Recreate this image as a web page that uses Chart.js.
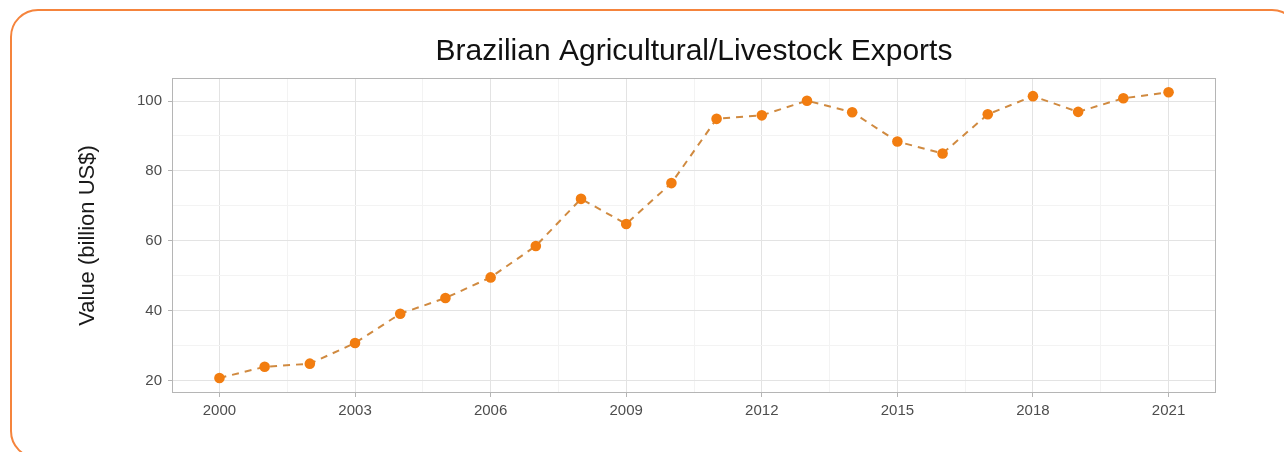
<!DOCTYPE html>
<html>
<head>
<meta charset="utf-8">
<title>Brazilian Agricultural/Livestock Exports</title>
<script src="https://cdn.jsdelivr.net/npm/chart.js@4/dist/chart.umd.min.js"></script>
<style>
  html, body { margin: 0; padding: 0; background: #fff; overflow: hidden; }
  #frame {
    position: absolute; left: 10px; top: 9px; width: 1290px; height: 450px;
    border: 2.5px solid #f5843c; border-radius: 28px; box-sizing: border-box;
  }
  #wrap { position: absolute; left: 0; top: 0; width: 1284px; height: 452px; }
</style>
</head>
<body>
<div id="frame"></div>
<div id="wrap"><canvas id="grafico" width="1284" height="452"></canvas></div>
<script>
// exportações do agronegócio, bilhões de US$
const anos = [2000, 2001, 2002, 2003, 2004, 2005, 2006, 2007, 2008, 2009, 2010,
  2011, 2012, 2013, 2014, 2015, 2016, 2017, 2018, 2019, 2020, 2021];
const valores = [20.7, 23.9, 24.8, 30.7, 39.1, 43.6, 49.5, 58.5, 72.0, 64.8, 76.5,
  94.9, 95.9, 100.1, 96.8, 88.4, 85.0, 96.2, 101.4, 96.9, 100.8, 102.5];

const anosTicks = [2000, 2003, 2006, 2009, 2012, 2015, 2018, 2021];
const anosMenores = [2001.5, 2004.5, 2007.5, 2010.5, 2013.5, 2016.5, 2019.5];
const valoresTicks = [20, 40, 60, 80, 100];
const valoresMenores = [30, 50, 70, 90];

const corGrade = "#e3e3e3";
const corGradeMenor = "#f3f3f3";
const corMoldura = "#b5b5b5";
const fonte = "Liberation Sans, Arial, sans-serif";

// moldura cinza em volta da área do gráfico
const moldura = {
  id: "moldura",
  afterDraw(chart) {
    const { ctx, chartArea: a } = chart;
    ctx.save();
    ctx.strokeStyle = corMoldura;
    ctx.lineWidth = 1;
    ctx.strokeRect(Math.round(a.left) + 0.5, Math.round(a.top) + 0.5,
      Math.round(a.right - a.left) - 1, Math.round(a.bottom - a.top) - 1);
    ctx.restore();
  }
};

function montarTicks(maiores, menores) {
  return [...maiores, ...menores].sort((a, b) => a - b).map(v => ({ value: v }));
}

new Chart(document.getElementById("grafico"), {
  type: "line",
  data: {
    datasets: [{
      data: anos.map((a, i) => ({ x: a, y: valores[i] })),
      borderColor: "#d08a40",
      borderWidth: 2,
      borderDash: [7, 6],
      pointRadius: 5.3,
      pointBackgroundColor: "#f27d10",
      pointBorderColor: "#f27d10",
      pointBorderWidth: 0,
      tension: 0,
      fill: false
    }]
  },
  options: {
    responsive: false,
    animation: false,
    layout: { padding: { left: 0, top: 30, right: 68, bottom: 0 } },
    plugins: {
      legend: { display: false },
      tooltip: { enabled: false },
      title: {
        display: true,
        fullSize: false,
        text: "Brazilian Agricultural/Livestock Exports",
        color: "#111",
        font: { family: fonte, size: 30, weight: "normal" },
        padding: { top: 4, bottom: 8 }
      }
    },
    scales: {
      x: {
        type: "linear",
        min: 1998.95,
        max: 2022.05,
        afterBuildTicks: s => { s.ticks = montarTicks(anosTicks, anosMenores); },
        afterFit: s => { s.height = 59; },
        ticks: {
          autoSkip: false,
          maxRotation: 0,
          padding: 5,
          color: "#4d4d4d",
          font: { family: fonte, size: 15 },
          callback: v => anosTicks.includes(v) ? String(v) : ""
        },
        grid: {
          color: c => anosTicks.includes(c.tick.value) ? corGrade : corGradeMenor,
          tickColor: c => anosTicks.includes(c.tick.value) ? corMoldura : "rgba(0,0,0,0)",
          tickLength: 4
        },
        border: { display: false }
      },
      y: {
        min: 16.4,
        max: 106.6,
        afterBuildTicks: s => { s.ticks = montarTicks(valoresTicks, valoresMenores); },
        afterFit: s => { s.width = 172; },
        ticks: {
          autoSkip: false,
          padding: 6,
          color: "#4d4d4d",
          font: { family: fonte, size: 15 },
          callback: v => valoresTicks.includes(v) ? String(v) : ""
        },
        grid: {
          color: c => valoresTicks.includes(c.tick.value) ? corGrade : corGradeMenor,
          tickColor: c => valoresTicks.includes(c.tick.value) ? corMoldura : "rgba(0,0,0,0)",
          tickLength: 4
        },
        border: { display: false },
        title: {
          display: true,
          text: "Value (billion US$)",
          color: "#1a1a1a",
          font: { family: fonte, size: 22 },
          padding: { top: 75, bottom: 0 }
        }
      }
    }
  },
  plugins: [moldura]
});
</script>
</body>
</html>
